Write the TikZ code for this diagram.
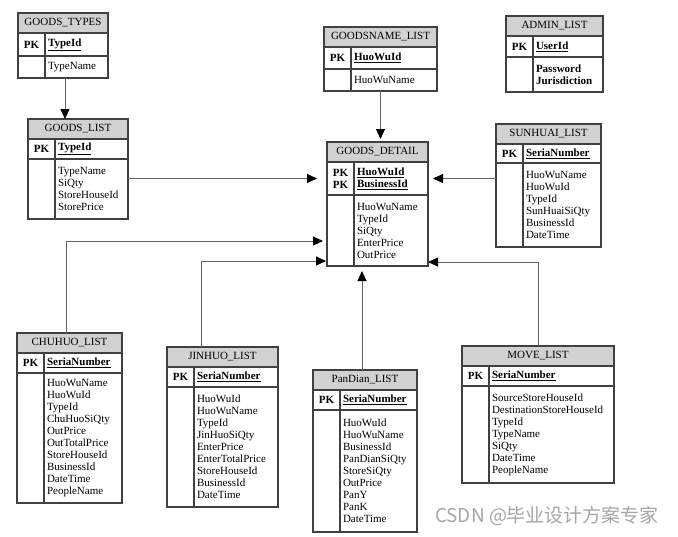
\documentclass[tikz,border=0pt]{standalone}
\usepackage{fontspec}
\setmainfont{Liberation Serif}
\newfontfamily\wmfont{Noto Sans CJK SC}
\usetikzlibrary{arrows.meta}
\tikzset{
    erhead/.style={draw=black!75, line width=1.2pt, fill=black!18, minimum height=20pt,
        inner sep=0pt, outer sep=0pt, anchor=north west, font=\fontsize{11}{12}\selectfont},
    ercell/.style={draw=black!75, line width=1.2pt, inner sep=0pt, outer sep=0pt,
        anchor=north west, align=left, font=\fontsize{11}{12}\selectfont},
    fk/.style={draw=black!60, line width=0.9pt, -{Triangle[length=10pt,width=9pt,color=black]}},
    watermark/.style={text=black!35, font=\wmfont\fontsize{19}{19}\selectfont}
}
% #1 name, #2 title, #3 top left, #4 width, #5 key height, #6 body height,
% #7 pk column, #8 key fields, #9 other fields
\newcommand{\ertable}[9]{%
    \pgfmathsetmacro{\ertextw}{#4-33}%
    \node[erhead, minimum width=#4pt] (#1) at #3 {#2};
    \node[ercell, minimum width=27pt, minimum height=#5pt, align=center] (#1-kl) at (#1.south west) {#7};
    \node[ercell, text width=\ertextw pt, inner xsep=3pt, minimum height=#5pt] (#1-kr) at (#1-kl.north east) {#8};
    \node[ercell, minimum width=27pt, minimum height=#6pt] (#1-bl) at (#1-kl.south west) {};
    \node[ercell, text width=\ertextw pt, inner xsep=3pt, minimum height=#6pt] (#1-br) at (#1-bl.north east) {#9};
}
\newcommand{\pk}{\textbf{PK}}
\newcommand{\keyf}[1]{\underline{\textbf{#1}}}
\begin{document}
\begin{tikzpicture}[x=1pt,y=-1pt]
      \fill[white] (0,0) rectangle (678,536);
      \useasboundingbox (0,0) rectangle (678,536);
      % tables
      \ertable{types}{GOODS\_TYPES}{(18,13)}{90}{23}{22}{\pk}{\keyf{TypeId}}{TypeName}
      \ertable{list}{GOODS\_LIST}{(28,119)}{100}{20}{60}{\pk}{\keyf{TypeId}}{TypeName\\SiQty\\StoreHouseId\\StorePrice}
      \ertable{goodsname}{GOODSNAME\_LIST}{(324,27)}{113}{22}{22}{\pk}{\keyf{HuoWuId}}{HuoWuName}
      \ertable{detail}{GOODS\_DETAIL}{(327,142)}{101}{33}{71}{\pk\\\pk}{\keyf{HuoWuId}\\\keyf{BusinessId}}{HuoWuName\\TypeId\\SiQty\\EnterPrice\\OutPrice}
      \ertable{admin}{ADMIN\_LIST}{(506,16)}{97}{21}{35}{\pk}{\keyf{UserId}}{\textbf{Password}\\\textbf{Jurisdiction}}
      \ertable{sunhuai}{SUNHUAI\_LIST}{(496,124)}{105}{19}{84}{\pk}{\keyf{SeriaNumber}}{HuoWuName\\HuoWuId\\TypeId\\SunHuaiSiQty\\BusinessId\\DateTime}
      \ertable{chuhuo}{CHUHUO\_LIST}{(17,333)}{105}{20}{130}{\pk}{\keyf{SeriaNumber}}{HuoWuName\\HuoWuId\\TypeId\\ChuHuoSiQty\\OutPrice\\OutTotalPrice\\StoreHouseId\\BusinessId\\DateTime\\PeopleName}
      \ertable{jinhuo}{JINHUO\_LIST}{(167,347)}{111}{20}{120}{\pk}{\keyf{SeriaNumber}}{HuoWuId\\HuoWuName\\TypeId\\JinHuoSiQty\\EnterPrice\\EnterTotalPrice\\StoreHouseId\\BusinessId\\DateTime}
      \ertable{pandian}{PanDian\_LIST}{(313,370)}{104}{20}{122}{\pk}{\keyf{SeriaNumber}}{HuoWuId\\HuoWuName\\BusinessId\\PanDianSiQty\\StoreSiQty\\OutPrice\\PanY\\PanK\\DateTime}
      \ertable{move}{MOVE\_LIST}{(462,346)}{152}{20}{97}{\pk}{\keyf{SeriaNumber}}{SourceStoreHouseId\\DestinationStoreHouseId\\TypeId\\TypeName\\SiQty\\DateTime\\PeopleName}
      % references
      \draw[fk] ([xshift=-13pt]list.north |- types-br.south) -- ([xshift=-13pt]list.north);
      \draw[fk, shorten >=3pt] (goodsname.north |- goodsname-br.south) -- (goodsname.north |- detail.north);
      \draw[fk, shorten >=10pt] (detail-kl.west -| list-br.east) -- (detail-kl.west);
      \draw[fk, shorten >=5pt] (detail-kr.east -| sunhuai-bl.west) -- (detail-kr.east);
      \draw[fk, shorten >=4pt] ([xshift=-3.5pt]chuhuo.north) |- ([yshift=-10.5pt]detail-bl.west);
      \draw[fk, shorten >=1pt] ([xshift=-21.5pt]jinhuo.north) |- ([yshift=-30.5pt]detail-bl.west);
      \draw[fk, shorten >=5pt] ([xshift=-3pt]pandian.north) -- ([xshift=-3pt]pandian.north |- detail-br.south);
      \draw[fk] (move.north) |- ([yshift=-31.5pt]detail-br.east);
      \node[watermark] (wm) at (547,516) {CSDN @毕业设计方案专家};
\end{tikzpicture}
\end{document}
